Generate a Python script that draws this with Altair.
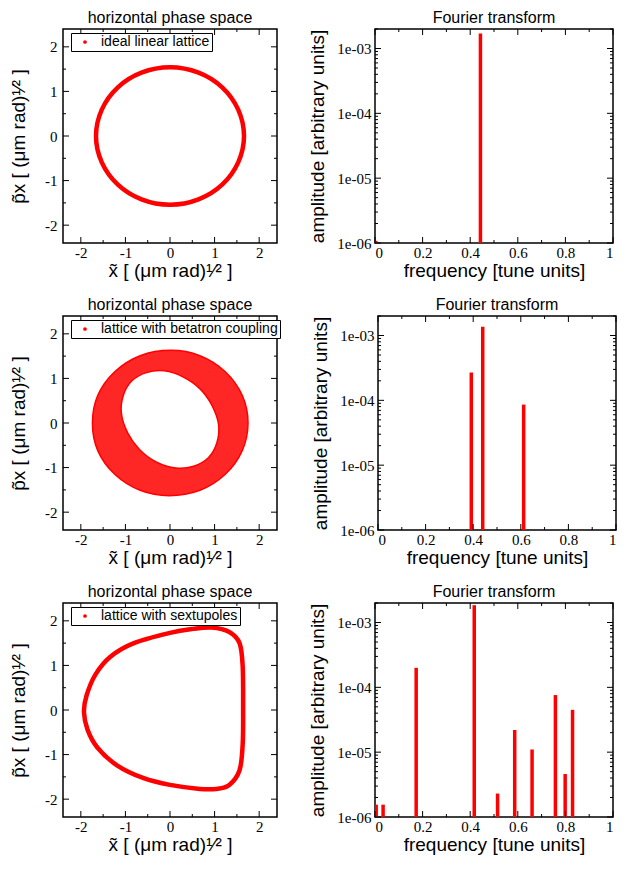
import altair as alt
import pandas as pd

RED = "#ff0000"
SANS = "Liberation Sans"
SERIF = "Liberation Serif"

# ---------------- phase-space curves ----------------
ideal_x = [1.66, 1.53, 1.17, 0.64, 0.00, -0.64, -1.17, -1.53, -1.66, -1.53, -1.17, -0.64, 0.00, 0.64, 1.17, 1.53]
ideal_y = [0.00, 0.59, 1.09, 1.42, 1.54, 1.42, 1.09, 0.59, 0.00, -0.59, -1.09, -1.42, -1.54, -1.42, -1.09, -0.59]

coup_outer_x = [1.75, 1.62, 1.24, 0.67, 0.02, -0.67, -1.24, -1.62, -1.74, -1.62, -1.24, -0.67, -0.02, 0.67, 1.24, 1.62]
coup_outer_y = [0.00, 0.62, 1.15, 1.51, 1.63, 1.51, 1.15, 0.62, 0.00, -0.62, -1.15, -1.51, -1.63, -1.51, -1.15, -0.62]
coup_inner_x = [0.86, 1.05, 1.09, 0.95, 0.68, 0.30, -0.13, -0.53, -0.86, -1.05, -1.09, -0.95, -0.68, -0.30, 0.13, 0.53]
coup_inner_y = [-0.78, -0.45, -0.04, 0.38, 0.76, 1.03, 1.17, 1.13, 0.94, 0.61, 0.21, -0.22, -0.60, -0.88, -1.01, -0.97]

sext_x = [0.93, 1.33, 1.56, 1.63, 1.64, 1.63, 1.56, 1.33, 1.04, 0.67, 0.00, -0.59, -1.19, -1.63, -1.85, -1.93, -1.87, -1.67, -1.33, -0.81, 0.00, 0.52]
sext_y = [1.85, 1.75, 1.50, 0.99, 0.00, -0.77, -1.35, -1.68, -1.77, -1.77, -1.68, -1.53, -1.24, -0.84, -0.44, -0.04, 0.33, 0.80, 1.20, 1.50, 1.73, 1.82]

legend_labels = ["ideal linear lattice", "lattice with betatron coupling", "lattice with sextupoles"]

# ---------------- Fourier spectra ----------------
ft1_freq = [0.003, 0.443]
ft1_amp = [1.08e-6, 1.7e-3]
ft2_freq = [0.392, 0.440, 0.612]
ft2_amp = [2.7e-4, 1.37e-3, 8.6e-5]
ft3_freq = [0.005, 0.034, 0.173, 0.417, 0.515, 0.587, 0.660, 0.758, 0.799, 0.830]
ft3_amp = [1.55e-6, 1.55e-6, 2.0e-4, 1.85e-3, 2.3e-6, 2.2e-5, 1.1e-5, 7.6e-5, 4.6e-6, 4.5e-5]

AMP_MIN, AMP_MAX = 1e-6, 2e-3

# ---------------- tick values ----------------
phase_major = [-2, -1, 0, 1, 2]
phase_minor = [-1.5, -0.5, 0.5, 1.5]
freq_major = [0, 0.2, 0.4, 0.6, 0.8, 1.0]
freq_minor = [0.1, 0.3, 0.5, 0.7, 0.9]
amp_major = [1e-6, 1e-5, 1e-4, 1e-3]
amp_minor = [k * 10.0 ** e for e in (-6, -5, -4, -3) for k in range(2, 10) if k * 10.0 ** e <= AMP_MAX]

W_L, W_R, H = 214, 238, 214
MAJ, MIN = 6, 3

phase_scale = alt.Scale(domain=[-2.4, 2.4], nice=False, zero=False)
freq_scale = alt.Scale(domain=[0, 1], nice=False, zero=False)
amp_scale = alt.Scale(type="log", domain=[AMP_MIN, AMP_MAX], nice=False)

X_TITLE = "x\u0303 [ (\u03bcm rad)\u00b9\u2044\u00b2 ]"
Y_TITLE = "p\u0303x [ (\u03bcm rad)\u00b9\u2044\u00b2 ]"

lab = dict(labelFont=SERIF, labelFontSize=15, labelColor="black",
           titleFont=SANS, titleFontWeight="normal", titleColor="black",
           ticks=False, tickSize=0, domain=False, grid=False)

signed = "datum.value < 0 ? '-' + format(-datum.value, 'd') : format(datum.value, 'd')"

phase_x_axis = alt.Axis(orient="bottom", values=phase_major, labelExpr=signed, labelPadding=2,
                        title=X_TITLE, titleFontSize=19, titlePadding=2, minExtent=16, maxExtent=16, **lab)
phase_y_axis = alt.Axis(orient="left", values=phase_major, labelExpr=signed, labelPadding=6,
                        title=Y_TITLE, titleFontSize=19, titlePadding=11, minExtent=24, maxExtent=24, **lab)
freq_x_axis = alt.Axis(orient="bottom", values=freq_major, format="~g", labelPadding=2, labelFlush=True,
                       title="frequency [tune units]", titleFontSize=19, titlePadding=2,
                       minExtent=16, maxExtent=16, **lab)
amp_y_axis = alt.Axis(orient="left", values=amp_major,
                      labelExpr="'1e-0' + format(-round(log(datum.value) / LN10), 'd')", labelPadding=4,
                      title="amplitude [arbitrary units]", titleFontSize=19, titlePadding=8,
                      minExtent=40, maxExtent=40, **lab)


def tick_rules(xs, ys, xax, yax, xmaj, xmin, ymaj, ymin, W):
    """Inward ticks on all four sides of the frame, placed through the chart's scales.
    They carry the same axis definition as the data layer, so the axes merge into one."""
    out = []
    for vals, size in [(xmaj, MAJ), (xmin, MIN)]:
        base = alt.Chart(pd.DataFrame({"v": vals})).mark_rule(color="black", strokeWidth=1)
        xe = alt.X("v:Q", scale=xs, axis=xax)
        out.append(base.encode(x=xe, y=alt.value(H), y2=alt.value(H - size)))
        out.append(base.encode(x=xe, y=alt.value(0), y2=alt.value(size)))
    for vals, size in [(ymaj, MAJ), (ymin, MIN)]:
        base = alt.Chart(pd.DataFrame({"v": vals})).mark_rule(color="black", strokeWidth=1)
        ye = alt.Y("v:Q", scale=ys, axis=yax)
        out.append(base.encode(y=ye, x=alt.value(0), x2=alt.value(size)))
        out.append(base.encode(y=ye, x=alt.value(W), x2=alt.value(W - size)))
    return out


def make_legend():
    return alt.Legend(title=None, orient="none", legendX=8, legendY=4, strokeColor="black", fillColor="white",
                      padding=2, symbolType="circle", symbolSize=14, symbolFillColor=RED, symbolStrokeColor=RED,
                      symbolStrokeWidth=0, symbolOffset=5, labelFont=SANS, labelFontSize=14, labelOffset=9,
                      labelColor="black", labelLimit=0, cornerRadius=0)


def ptitle(t):
    return alt.Title(t, font=SANS, fontSize=16, fontWeight="normal", color="black", offset=3,
                     frame="group", anchor="middle")


def curve_df(xs, ys, label):
    return pd.DataFrame({"x": xs, "y": ys, "i": list(range(len(xs))), "label": label})


def color_enc(label):
    return alt.Color("label:N", scale=alt.Scale(domain=[label], range=[RED]), legend=make_legend())


def phase_panel(layers_main):
    ticks = tick_rules(phase_scale, phase_scale, phase_x_axis, phase_y_axis,
                       phase_major, phase_minor, phase_major, phase_minor, W_L)
    return alt.layer(*layers_main, *ticks).properties(
        width=W_L, height=H, title=ptitle("horizontal phase space"))


def simple_curve(xs, ys, label):
    df = curve_df(xs, ys, label)
    c = alt.Chart(df).mark_line(interpolate="cardinal-closed", strokeWidth=4.5).encode(
        x=alt.X("x:Q", scale=phase_scale, axis=phase_x_axis),
        y=alt.Y("y:Q", scale=phase_scale, axis=phase_y_axis),
        order="i:Q",
        color=color_enc(label),
    )
    return phase_panel([c])


def ring_panel():
    label = legend_labels[1]
    df_out = curve_df(coup_outer_x, coup_outer_y, label)
    df_in = curve_df(coup_inner_x, coup_inner_y, label)
    outer = alt.Chart(df_out).mark_line(interpolate="cardinal-closed", strokeWidth=1.5, fill=RED,
                                        fillOpacity=0.85).encode(
        x=alt.X("x:Q", scale=phase_scale, axis=phase_x_axis),
        y=alt.Y("y:Q", scale=phase_scale, axis=phase_y_axis),
        order="i:Q",
        color=color_enc(label),
    )
    inner = alt.Chart(df_in).mark_line(interpolate="cardinal-closed", strokeWidth=1.5, fill="white",
                                       stroke=RED).encode(
        x=alt.X("x:Q", scale=phase_scale, axis=phase_x_axis),
        y=alt.Y("y:Q", scale=phase_scale, axis=phase_y_axis),
        order="i:Q",
    )
    return phase_panel([outer, inner])


def fourier_panel(freq, amp):
    df = pd.DataFrame({"f": freq, "a": amp, "base": AMP_MIN})
    bars = alt.Chart(df).mark_rule(strokeWidth=3.5, color=RED, strokeCap="butt", clip=True).encode(
        x=alt.X("f:Q", scale=freq_scale, axis=freq_x_axis),
        y=alt.Y("a:Q", scale=amp_scale, axis=amp_y_axis),
        y2="base:Q",
    )
    ticks = tick_rules(freq_scale, amp_scale, freq_x_axis, amp_y_axis,
                       freq_major, freq_minor, amp_major, amp_minor, W_R)
    return alt.layer(bars, *ticks).properties(width=W_R, height=H, title=ptitle("Fourier transform"))


rows = [
    alt.hconcat(simple_curve(ideal_x, ideal_y, legend_labels[0]), fourier_panel(ft1_freq, ft1_amp),
                spacing=28).resolve_scale(color="independent"),
    alt.hconcat(ring_panel(), fourier_panel(ft2_freq, ft2_amp),
                spacing=28).resolve_scale(color="independent"),
    alt.hconcat(simple_curve(sext_x, sext_y, legend_labels[2]), fourier_panel(ft3_freq, ft3_amp),
                spacing=28).resolve_scale(color="independent"),
]

chart = alt.vconcat(*rows, spacing=14, padding=0, background="white").resolve_scale(
    color="independent").configure_view(stroke="black", strokeWidth=1.5)

chart.save("out.html", embed_options={"renderer": "svg", "actions": False})
